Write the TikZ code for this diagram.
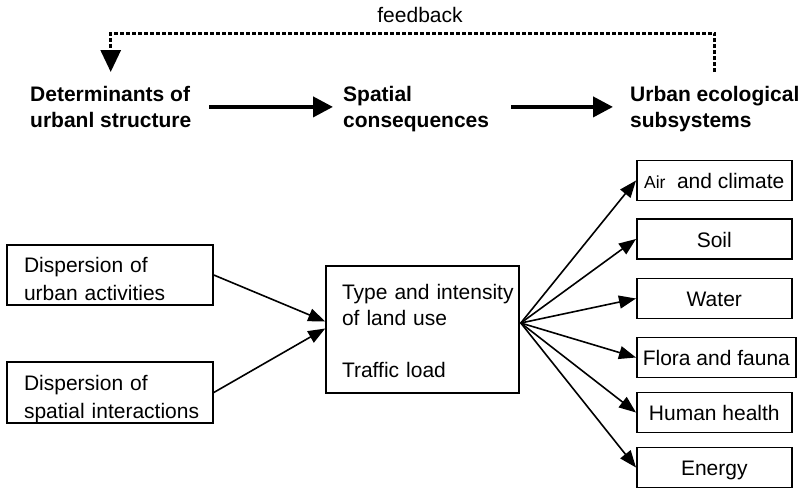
\documentclass[tikz,border=0pt]{standalone}
\usepackage{fontspec}
\setmainfont{Liberation Sans}
\usetikzlibrary{arrows.meta,calc}
\begin{document}
\begin{tikzpicture}[x=1pt,y=-1pt,
  txt/.style={font=\fontsize{21}{26}\selectfont},
  head/.style={font=\fontsize{21}{26}\selectfont\bfseries, align=left,
    inner sep=0pt, anchor=north west},
  bigarrow/.style={line width=4pt, -{Triangle[length=20pt,width=20pt]}},
  fb/.style={line width=3pt, dash pattern=on 4pt off 2pt,
    -{Triangle[length=22pt,width=20pt]}},
  frame/.style={draw, line width=1.6pt, inner ysep=0pt},
  lbox/.style={frame, font=\fontsize{21}{28}\selectfont, align=left,
    text width=172pt, inner xsep=17pt, minimum height=60pt},
  cbox/.style={frame, font=\fontsize{21}{26}\selectfont, align=left,
    text width=161pt, inner xsep=16pt, minimum height=127pt},
  rbox/.style={frame, font=\fontsize{21}{26}\selectfont, anchor=west,
    minimum width=155pt, minimum height=40pt, inner xsep=6pt,
    text height=16pt, text depth=0pt},
  arr/.style={line width=1.6pt, -{Triangle[length=17pt,width=13pt]}}
]
\useasboundingbox (0,0) rectangle (805,491);

% top row: the three stages
\node[head] (det) at (30,86)  {Determinants of\\urbanl structure};
\node[head] (spa) at (343,86) {Spatial\\consequences};
\node[head] (sub) at (630,86) {Urban ecological\\subsystems};

\draw[bigarrow, shorten <=18pt, shorten >=10pt] (det.east) -- (det.east -| spa.west);
\draw[bigarrow, shorten <=22pt, shorten >=17pt] (det.east -| spa.east) -- (det.east -| sub.west);

% feedback loop
\draw[fb] ([yshift=14pt]sub.north) -- ++(0,-39) -| ([yshift=14pt]det.north);
\node[txt, anchor=base, inner sep=0pt] (fbl) at (420,22) {feedback};

% determinants
\node[lbox] (act) at (110,275)   {\rule{0pt}{23pt}Dispersion of\\urban activities};
\node[lbox] (int) at (110,392.5) {\rule{0pt}{28.4pt}Dispersion of\\\mbox{spatial interactions}};

% spatial consequences
\node[cbox] (use) at (422.5,329.5)
  {\rule{0pt}{19pt}\mbox{Type and intensity}\\of land use\\[26pt]Traffic load};

% ecological subsystems
\node[rbox] (air)    at (636,180.5) {{\fontsize{17.5}{20}\selectfont Air}\hspace{11.5pt}and climate};
\node[rbox] (soil)   at (636,239)   {Soil};
\node[rbox] (water)  at (636,298.5) {Water};
\node[rbox] (flora)  at (636,357.5) {Flora and fauna};
\node[rbox] (health) at (636,412.5) {Human health};
\node[rbox] (energy) at (636,467.5) {Energy};

% connectors
\draw[arr] (act.east) -- ($(use.west)+(0,-8)$);
\draw[arr] (int.east) -- ($(use.west)+(0,-1)$);

\coordinate (hub) at ($(use.east)+(1,-6.5)$);
\foreach \t in {air,soil,water,flora,health,energy}
  \draw[arr] (hub) -- (\t.west);
\end{tikzpicture}
\end{document}
